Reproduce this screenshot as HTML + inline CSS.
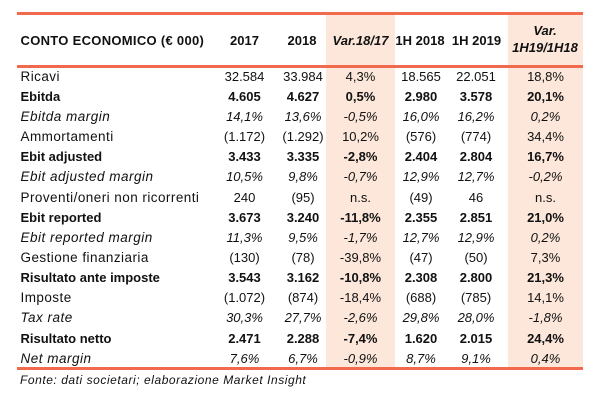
<!DOCTYPE html>
<html>
<head>
<meta charset="utf-8">
<style>
  html,body{margin:0;padding:0;background:#fff;}
  body{width:608px;height:406px;position:relative;overflow:hidden;
       font-family:"Liberation Sans",Arial,sans-serif;color:#111;}
  .shade{position:absolute;background:#fce7da;}
  .line{position:absolute;left:17px;width:566px;height:3px;background:#f26a4d;}
  .row{position:absolute;left:0;width:608px;height:20px;line-height:20px;font-size:13px;}
  .row div{position:absolute;top:0;white-space:nowrap;}
  .lab{left:20.5px;font-size:13.5px;letter-spacing:0.45px;}
  .b .lab{font-size:13px;letter-spacing:0;}
  .i .lab{font-size:13.5px;letter-spacing:0.5px;}
  .c{width:80px;text-align:center;}
  .c1{left:204.5px}.c2{left:263px}.c3{left:320.5px}.c4{left:381px}.c5{left:436px}.c6{left:505.5px}
  .b{font-weight:bold;}
  .i{font-style:italic;}
  .hdr{position:absolute;font-weight:bold;font-size:13px;line-height:20px;height:20px;white-space:nowrap;}
  .foot{position:absolute;left:20px;top:372px;font-style:italic;font-size:12px;letter-spacing:0.55px;line-height:16px;}
</style>
</head>
<body>
  <div class="shade" style="left:326px;top:14px;width:69px;height:354px;"></div>
  <div class="shade" style="left:508px;top:14px;width:75px;height:354px;"></div>
  <div class="line" style="top:12px;"></div>
  <div class="line" style="top:65px;"></div>
  <div class="line" style="top:367px;"></div>

  <div class="hdr" style="left:20.5px;top:31px;letter-spacing:0.3px;">CONTO ECONOMICO (€ 000)</div>
  <div class="hdr c" style="left:204.5px;top:31px;">2017</div>
  <div class="hdr c" style="left:262px;top:31px;">2018</div>
  <div class="hdr c" style="left:320.5px;top:31px;font-style:italic;">Var.18/17</div>
  <div class="hdr c" style="left:380px;top:31px;">1H 2018</div>
  <div class="hdr c" style="left:436.5px;top:31px;">1H 2019</div>
  <div class="hdr c" style="left:505px;top:20.5px;font-style:italic;">Var.</div>
  <div class="hdr c" style="left:505px;top:38px;font-style:italic;">1H19/1H18</div>

  <div class="row" style="top:66.7px;"><div class="lab">Ricavi</div><div class="c c1">32.584</div><div class="c c2">33.984</div><div class="c c3">4,3%</div><div class="c c4">18.565</div><div class="c c5">22.051</div><div class="c c6">18,8%</div></div>
  <div class="row b" style="top:86.8px;"><div class="lab">Ebitda</div><div class="c c1">4.605</div><div class="c c2">4.627</div><div class="c c3">0,5%</div><div class="c c4">2.980</div><div class="c c5">3.578</div><div class="c c6">20,1%</div></div>
  <div class="row i" style="top:107px;"><div class="lab">Ebitda margin</div><div class="c c1">14,1%</div><div class="c c2">13,6%</div><div class="c c3">-0,5%</div><div class="c c4">16,0%</div><div class="c c5">16,2%</div><div class="c c6">0,2%</div></div>
  <div class="row" style="top:127.1px;"><div class="lab">Ammortamenti</div><div class="c c1">(1.172)</div><div class="c c2">(1.292)</div><div class="c c3">10,2%</div><div class="c c4">(576)</div><div class="c c5">(774)</div><div class="c c6">34,4%</div></div>
  <div class="row b" style="top:147.3px;"><div class="lab">Ebit adjusted</div><div class="c c1">3.433</div><div class="c c2">3.335</div><div class="c c3">-2,8%</div><div class="c c4">2.404</div><div class="c c5">2.804</div><div class="c c6">16,7%</div></div>
  <div class="row i" style="top:167.4px;"><div class="lab">Ebit adjusted margin</div><div class="c c1">10,5%</div><div class="c c2">9,8%</div><div class="c c3">-0,7%</div><div class="c c4">12,9%</div><div class="c c5">12,7%</div><div class="c c6">-0,2%</div></div>
  <div class="row" style="top:187.5px;"><div class="lab">Proventi/oneri non ricorrenti</div><div class="c c1">240</div><div class="c c2">(95)</div><div class="c c3">n.s.</div><div class="c c4">(49)</div><div class="c c5">46</div><div class="c c6">n.s.</div></div>
  <div class="row b" style="top:207.7px;"><div class="lab">Ebit reported</div><div class="c c1">3.673</div><div class="c c2">3.240</div><div class="c c3">-11,8%</div><div class="c c4">2.355</div><div class="c c5">2.851</div><div class="c c6">21,0%</div></div>
  <div class="row i" style="top:227.8px;"><div class="lab">Ebit reported margin</div><div class="c c1">11,3%</div><div class="c c2">9,5%</div><div class="c c3">-1,7%</div><div class="c c4">12,7%</div><div class="c c5">12,9%</div><div class="c c6">0,2%</div></div>
  <div class="row" style="top:248px;"><div class="lab">Gestione finanziaria</div><div class="c c1">(130)</div><div class="c c2">(78)</div><div class="c c3">-39,8%</div><div class="c c4">(47)</div><div class="c c5">(50)</div><div class="c c6">7,3%</div></div>
  <div class="row b" style="top:268.1px;"><div class="lab">Risultato ante imposte</div><div class="c c1">3.543</div><div class="c c2">3.162</div><div class="c c3">-10,8%</div><div class="c c4">2.308</div><div class="c c5">2.800</div><div class="c c6">21,3%</div></div>
  <div class="row" style="top:288.2px;"><div class="lab">Imposte</div><div class="c c1">(1.072)</div><div class="c c2">(874)</div><div class="c c3">-18,4%</div><div class="c c4">(688)</div><div class="c c5">(785)</div><div class="c c6">14,1%</div></div>
  <div class="row i" style="top:308.4px;"><div class="lab">Tax rate</div><div class="c c1">30,3%</div><div class="c c2">27,7%</div><div class="c c3">-2,6%</div><div class="c c4">29,8%</div><div class="c c5">28,0%</div><div class="c c6">-1,8%</div></div>
  <div class="row b" style="top:328.5px;"><div class="lab">Risultato netto</div><div class="c c1">2.471</div><div class="c c2">2.288</div><div class="c c3">-7,4%</div><div class="c c4">1.620</div><div class="c c5">2.015</div><div class="c c6">24,4%</div></div>
  <div class="row i" style="top:348.7px;"><div class="lab">Net margin</div><div class="c c1">7,6%</div><div class="c c2">6,7%</div><div class="c c3">-0,9%</div><div class="c c4">8,7%</div><div class="c c5">9,1%</div><div class="c c6">0,4%</div></div>

  <div class="foot">Fonte: dati societari; elaborazione Market Insight</div>
</body>
</html>
